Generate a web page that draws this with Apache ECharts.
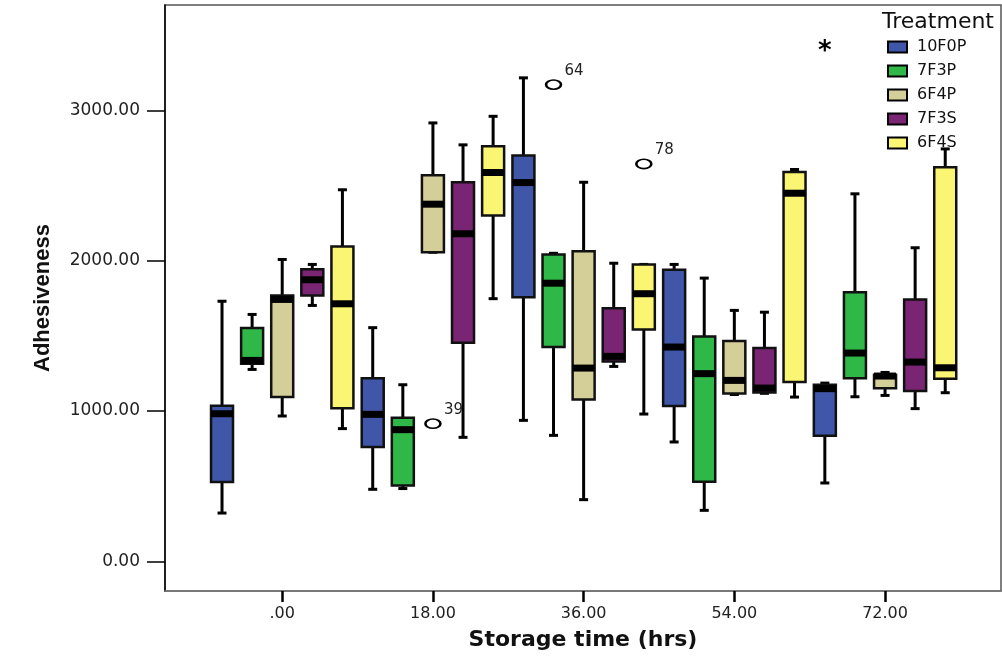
<!DOCTYPE html>
<html>
<head>
<meta charset="utf-8">
<script src="https://cdn.jsdelivr.net/npm/echarts@6/dist/echarts.min.js"></script>
<style>
html,body{margin:0;padding:0;background:#fff;}
#chart{width:1002px;height:659px;}
</style>
</head>
<body>
<div id="chart"></div>
<script>
// ---- data ----
const times = [0, 18, 36, 54, 72];
const timeLabels = ['.00', '18.00', '36.00', '54.00', '72.00'];
const yTicks = [0, 1000, 2000, 3000];
const treatments = ['10F0P', '7F3P', '6F4P', '7F3S', '6F4S'];
// each row: [min, q1, median, q3, max] for times 0,18,36,54,72
const box10F0P = [[321, 527, 982, 1036, 1731], [479, 760, 978, 1219, 1555], [938, 1758, 2521, 2701, 3218], [794, 1033, 1426, 1940, 1976], [521, 836, 1149, 1175, 1186]];
const box7F3P  = [[1277, 1315, 1337, 1552, 1643], [484, 504, 876, 956, 1175], [838, 1426, 1851, 2042, 2050], [339, 530, 1249, 1497, 1885], [1095, 1219, 1386, 1791, 2446]];
const box6F4P  = [[967, 1093, 1743, 1769, 2009], [2057, 2057, 2377, 2570, 2918], [410, 1076, 1286, 2064, 2523], [1110, 1116, 1204, 1466, 1670], [1104, 1151, 1233, 1242, 1257]];
const box7F3S  = [[1703, 1769, 1874, 1944, 1976], [825, 1455, 2180, 2523, 2772], [1297, 1330, 1364, 1685, 1984], [1118, 1124, 1153, 1419, 1658], [1016, 1133, 1326, 1743, 2087]];
const box6F4S  = [[883, 1018, 1714, 2095, 2473], [1748, 2302, 2588, 2763, 2962], [980, 1543, 1781, 1976, 1976], [1093, 1193, 2450, 2592, 2608], [1122, 1215, 1288, 2623, 2745]];
// outliers: [time, treatment index, value]
const outlierPoints = [[18, 2, 916], [36, 1, 3173], [36, 4, 2645], [72, 0, 3421]];
const outlierLabels = ['39', '64', '78', ''];
const outlierKinds = ['o', 'o', 'o', '*'];

const boxSets = [box10F0P, box7F3P, box6F4P, box7F3S, box6F4S];
const colors = ['#3F56A9', '#2FB748', '#D4CF98', '#7A2474', '#FAF572'];
const SLOT = 30.1;   // px between boxes in a cluster
const BOXW = 22;     // box width px
const CAPW = 9;

function boxRender(i) {
  return function (params, api) {
    const cx = api.coord([api.value(0), 0])[0] + (i - 2) * SLOT;
    const yy = k => api.coord([0, api.value(k)])[1];
    const ymin = yy(1), yq1 = yy(2), ymed = yy(3), yq3 = yy(4), ymax = yy(5);
    const lineStyle = {stroke: '#000', lineWidth: 3};
    return {
      type: 'group',
      children: [
        {type: 'line', shape: {x1: cx, y1: yq3, x2: cx, y2: ymax}, style: lineStyle},
        {type: 'line', shape: {x1: cx, y1: yq1, x2: cx, y2: ymin}, style: lineStyle},
        {type: 'line', shape: {x1: cx - CAPW / 2, y1: ymax, x2: cx + CAPW / 2, y2: ymax}, style: {stroke: '#000', lineWidth: 3}},
        {type: 'line', shape: {x1: cx - CAPW / 2, y1: ymin, x2: cx + CAPW / 2, y2: ymin}, style: {stroke: '#000', lineWidth: 3}},
        {type: 'rect', shape: {x: cx - BOXW / 2, y: yq3, width: BOXW, height: Math.max(yq1 - yq3, 1)},
          style: {fill: colors[i], stroke: '#111', lineWidth: 2.5}},
        {type: 'rect', shape: {x: cx - BOXW / 2, y: ymed - 3.5, width: BOXW, height: 7}, style: {fill: '#000'}}
      ]
    };
  };
}

const series = treatments.map((name, i) => ({
  name: name,
  type: 'custom',
  itemStyle: {color: colors[i]},
  renderItem: boxRender(i),
  encode: {x: 0, y: [1, 2, 3, 4, 5]},
  data: times.map((t, j) => [t].concat(boxSets[i][j])),
  z: 2
}));

series.push({
  name: 'outliers',
  type: 'custom',
  renderItem: function (params, api) {
    const idx = params.dataIndex;
    const cx = api.coord([api.value(0), 0])[0] + (api.value(1) - 2) * SLOT;
    const cy = api.coord([0, api.value(2)])[1];
    if (outlierKinds[idx] === '*') {
      return {type: 'text', x: cx, y: cy + 5,
        style: {text: '*', font: 'bold 26px "DejaVu Sans"', fill: '#000', align: 'center', verticalAlign: 'middle'}};
    }
    return {
      type: 'group',
      children: [
        {type: 'circle', shape: {cx: 0, cy: 0, r: 7.5}, x: cx, y: cy, scaleY: 0.62,
          style: {fill: 'none', stroke: '#000', lineWidth: 2.6, strokeNoScale: true}},
        {type: 'text', x: cx + 11, y: cy - 6,
          style: {text: outlierLabels[idx], font: '15px "DejaVu Sans"', fill: '#222', align: 'left', verticalAlign: 'bottom'}}
      ]
    };
  },
  encode: {x: 0, y: 2},
  data: outlierPoints,
  z: 3
});

const chart = echarts.init(document.getElementById('chart'));
chart.setOption({
  animation: false,
  backgroundColor: '#fff',
  title: {
    text: 'Treatment', right: 3, top: 6,
    textStyle: {fontFamily: 'DejaVu Sans', fontSize: 22, fontWeight: 'normal', color: '#111'}
  },
  legend: {
    orient: 'vertical', left: 882, top: 34,
    itemWidth: 19, itemHeight: 11, itemGap: 8,
    icon: 'rect',
    data: treatments.map((n, i) => ({name: n, itemStyle: {color: colors[i], borderColor: '#000', borderWidth: 2}})),
    textStyle: {fontFamily: 'DejaVu Sans', fontSize: 16, color: '#111', lineHeight: 14, padding: [0, 0, 0, 5]},
    selectedMode: false
  },
  grid: {left: 165, right: 1, top: 5, bottom: 68, show: true, borderColor: '#555', borderWidth: 1.5},
  xAxis: {
    type: 'value', min: -14, max: 85.85,
    name: 'Storage time (hrs)', nameLocation: 'middle', nameGap: 38,
    nameTextStyle: {fontFamily: 'DejaVu Sans', fontWeight: 'bold', fontSize: 22, color: '#111'},
    axisLine: {show: true, onZero: false, lineStyle: {color: '#777', width: 1.5}},
    axisTick: {show: true, customValues: times, length: 11, lineStyle: {color: '#000', width: 2.5}},
    axisLabel: {customValues: times, margin: 15, fontFamily: 'DejaVu Sans', fontSize: 16, color: '#222',
      formatter: v => timeLabels[times.indexOf(v)]},
    splitLine: {show: false}
  },
  yAxis: {
    type: 'value', min: -198, max: 3703,
    name: 'Adhesiveness', nameLocation: 'middle', nameGap: 111, nameRotate: 90,
    nameTextStyle: {fontFamily: 'Liberation Sans', fontWeight: 'bold', fontSize: 22, color: '#111'},
    axisLine: {show: true, onZero: false, lineStyle: {color: '#000', width: 1.5}},
    axisTick: {show: true, customValues: yTicks, length: 18, lineStyle: {color: '#000', width: 1.5}},
    axisLabel: {customValues: yTicks, margin: 25, fontFamily: 'DejaVu Sans', fontSize: 17, color: '#222',
      formatter: v => v.toFixed(2)},
    splitLine: {show: false}
  },
  series: series
});
</script>
</body>
</html>
